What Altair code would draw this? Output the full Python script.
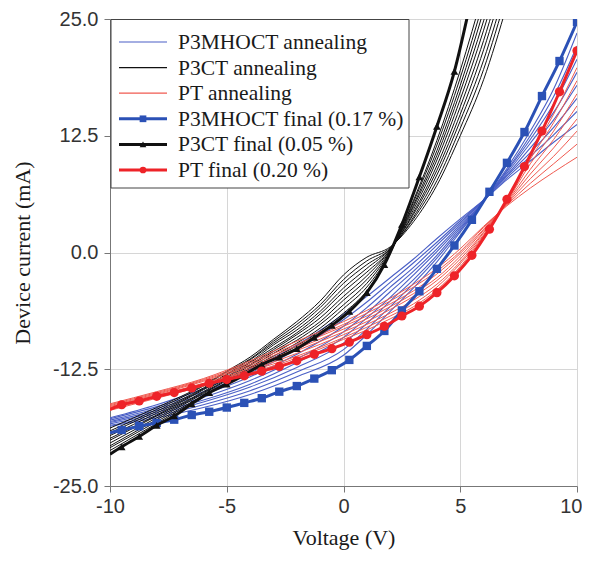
import altair as alt
import pandas as pd

# ---------------- data ----------------
V_GRID = [-10, -8, -6, -4, -2, 0, 1, 2, 3, 4, 5, 6, 7, 8, 9, 10]
V_GRID_P3CT = [-10, -8, -6, -5, -4, -3, -2, -1, 0, 1, 2, 3, 4, 5, 6, 7]
V_FINAL = [-10, -9.5, -8.75, -8.0, -7.25, -6.5, -5.75, -5.0, -4.25, -3.5, -2.75,
           -2.0, -1.25, -0.5, 0.25, 1.0, 1.75, 2.5, 3.25, 4.0, 4.75, 5.5, 6.25,
           7.0, 7.75, 8.5, 9.25, 10.0]

P3MHOCT_ANNEALING = [
    [-17.7, -16.3, -14.6, -12.5, -9.9, -6.6, -4.7, -2.7, -0.7, 1.5, 3.6, 5.6, 7.8, 9.8, 11.8, 13.7],
    [-17.8, -16.5, -14.9, -12.9, -10.4, -7.2, -5.3, -3.2, -1.1, 1.1, 3.4, 5.6, 8.0, 10.3, 12.6, 15.1],
    [-17.95, -16.7, -15.2, -13.3, -10.9, -7.9, -5.9, -3.7, -1.6, 0.8, 3.2, 5.6, 8.2, 10.7, 13.4, 16.5],
    [-18.1, -16.9, -15.5, -13.7, -11.4, -8.5, -6.5, -4.2, -2.0, 0.4, 3.0, 5.6, 8.3, 11.2, 14.2, 17.9],
    [-18.2, -17.1, -15.8, -14.1, -11.8, -9.1, -7.0, -4.8, -2.4, 0.1, 2.8, 5.5, 8.5, 11.7, 15.0, 19.3],
    [-18.35, -17.3, -16.0, -14.4, -12.3, -9.7, -7.6, -5.2, -2.9, -0.3, 2.6, 5.5, 8.7, 12.1, 15.9, 20.7],
    [-18.5, -17.5, -16.3, -14.8, -12.8, -10.4, -8.2, -5.8, -3.3, -0.6, 2.4, 5.5, 8.8, 12.5, 16.7, 22.1],
    [-18.6, -17.7, -16.6, -15.2, -13.3, -11.0, -8.8, -6.3, -3.8, -1.0, 2.2, 5.5, 9.0, 13.0, 17.5, 23.5],
]

P3CT_ANNEALING = [
    [-18.8, -16.6, -14.2, -12.7, -11.2, -9.3, -7.4, -5.2, -2.4, -0.5, 0.6, 3.3, 7.2, 12.5, 18.5, 26.5],
    [-19.1, -16.8, -14.3, -12.8, -11.4, -9.5, -7.7, -5.6, -2.9, -0.9, 0.5, 3.6, 7.7, 13.3, 19.6, 27.7],
    [-19.3, -17.0, -14.5, -13.0, -11.5, -9.7, -8.0, -5.9, -3.3, -1.3, 0.4, 3.8, 8.3, 14.1, 20.6, 28.8],
    [-19.6, -17.2, -14.6, -13.1, -11.7, -9.9, -8.3, -6.3, -3.8, -1.7, 0.4, 4.1, 8.8, 14.8, 21.7, 30.0],
    [-19.9, -17.4, -14.7, -13.3, -11.8, -10.2, -8.6, -6.6, -4.2, -2.1, 0.3, 4.3, 9.3, 15.6, 22.7, 31.2],
    [-20.1, -17.5, -14.9, -13.4, -12.0, -10.4, -8.8, -7.0, -4.7, -2.5, 0.3, 4.6, 9.9, 16.4, 23.8, 32.3],
    [-20.4, -17.7, -15.0, -13.6, -12.1, -10.6, -9.1, -7.4, -5.1, -2.9, 0.2, 4.9, 10.4, 17.2, 24.8, 33.5],
    [-20.7, -17.9, -15.1, -13.7, -12.3, -10.8, -9.4, -7.7, -5.6, -3.3, 0.1, 5.1, 10.9, 17.9, 25.9, 34.7],
    [-20.9, -18.1, -15.3, -13.9, -12.4, -11.1, -9.7, -8.1, -6.0, -3.7, 0.0, 5.4, 11.5, 18.7, 26.9, 35.8],
    [-21.2, -18.3, -15.4, -14.0, -12.6, -11.3, -10.0, -8.4, -6.5, -4.1, -0.1, 5.6, 12.0, 19.5, 28.0, 37.0],
]

PT_ANNEALING = [
    [-16.2, -14.9, -13.5, -11.6, -9.5, -7.4, -6.2, -4.9, -3.4, -1.7, 0.4, 2.8, 5.0, 6.9, 8.6, 10.2],
    [-16.3, -15.0, -13.6, -11.8, -9.8, -7.7, -6.5, -5.2, -3.7, -2.0, 0.1, 2.7, 5.1, 7.4, 9.5, 11.6],
    [-16.4, -15.1, -13.7, -12.0, -10.0, -7.9, -6.8, -5.5, -4.1, -2.3, -0.1, 2.5, 5.2, 7.9, 10.3, 13.0],
    [-16.5, -15.2, -13.8, -12.2, -10.3, -8.2, -7.1, -5.8, -4.4, -2.7, -0.4, 2.4, 5.3, 8.4, 11.2, 14.3],
    [-16.6, -15.3, -14.0, -12.4, -10.5, -8.5, -7.4, -6.1, -4.7, -3.0, -0.7, 2.2, 5.4, 8.9, 12.1, 15.7],
    [-16.7, -15.4, -14.1, -12.6, -10.8, -8.8, -7.7, -6.5, -5.1, -3.4, -1.0, 2.1, 5.5, 9.5, 13.0, 17.0],
    [-16.8, -15.5, -14.2, -12.7, -11.1, -9.1, -8.0, -6.8, -5.5, -3.7, -1.2, 1.9, 5.5, 10.0, 13.9, 18.4],
    [-16.9, -15.6, -14.3, -12.9, -11.3, -9.3, -8.3, -7.1, -5.8, -4.0, -1.5, 1.8, 5.6, 10.5, 14.8, 19.8],
]

P3MHOCT_FINAL = [-19.3, -19.0, -18.6, -18.25, -17.9, -17.4, -17.05, -16.6, -16.1, -15.6,
                 -14.9, -14.3, -13.5, -12.6, -11.5, -10.0, -8.4, -6.2, -4.15, -1.75,
                 0.75, 3.5, 6.5, 9.6, 12.9, 16.75, 20.5, 24.7]
P3CT_FINAL = [-21.6, -20.8, -19.7, -18.5, -17.5, -16.2, -15.0, -14.1, -13.1, -12.0,
              -11.2, -10.3, -9.1, -7.8, -6.3, -4.3, -1.3, 3.0, 8.1, 13.5, 19.4, 27.5]
PT_FINAL = [-16.8, -16.3, -15.9, -15.4, -15.0, -14.5, -14.0, -13.6, -13.2, -12.7,
            -12.2, -11.6, -10.9, -10.3, -9.6, -8.8, -7.9, -6.8, -5.75, -4.3,
            -2.5, -0.3, 2.5, 5.7, 9.2, 13.0, 17.2, 21.6]

LEGEND_LABELS = ["P3MHOCT annealing", "P3CT annealing", "PT annealing",
                 "P3MHOCT final (0.17 %)", "P3CT final (0.05 %)", "PT final (0.20 %)"]
X_TICKS = [-10, -5, 0, 5, 10]
Y_TICKS = [-25, -12.5, 0, 12.5, 25]

# ---------------- build tables ----------------
def annealing_df(curves, grid, name):
    rows = []
    for k, c in enumerate(curves):
        for v, i in zip(grid, c):
            rows.append({"V": v, "I": i, "curve": f"{name}{k}"})
    return pd.DataFrame(rows)

def final_df(vals):
    return pd.DataFrame({"V": V_FINAL[:len(vals)], "I": vals})

BLUE_THIN = "#4a5fc6"
BLUE = "#2b51b6"
BLACK = "#111111"
RED_THIN = "#f05a50"
RED = "#ee2328"

MINUS_FIX = "replace(datum.label, '\u2212', '-')"

xs = alt.Scale(domain=[-10, 10], nice=False)
ys = alt.Scale(domain=[-25, 25], nice=False)
x_enc = alt.X("V:Q", scale=xs,
              axis=alt.Axis(values=X_TICKS, title="Voltage (V)", titleY=41,
                            titleBaseline="top", labelExpr=MINUS_FIX, labelFlush=False,
                            labelAlign={"condition": {"test": "datum.value == 10", "value": "right"},
                                        "value": "center"},
                            labelOffset={"condition": {"test": "datum.value == 10", "value": 5},
                                         "value": 0}))
y_enc = alt.Y("I:Q", scale=ys,
              axis=alt.Axis(values=Y_TICKS, format=".1f", title="Device current (mA)",
                            titleX=-76, titleY=233.5, titleBaseline="bottom", titleAngle=270,
                            labelExpr=MINUS_FIX, labelFlush=False))

layers = []
for curves, grid, name, col, w in [
    (P3MHOCT_ANNEALING, V_GRID, "b", BLUE_THIN, 1.1),
    (P3CT_ANNEALING, V_GRID_P3CT, "k", BLACK, 1.0),
    (PT_ANNEALING, V_GRID, "r", RED_THIN, 1.0),
]:
    layers.append(
        alt.Chart(annealing_df(curves, grid, name))
        .mark_line(color=col, strokeWidth=w, clip=True, interpolate="monotone")
        .encode(x=x_enc, y=y_enc, detail="curve:N")
    )

for vals, col, shape, size in [
    (P3MHOCT_FINAL, BLUE, "square", 70),
    (P3CT_FINAL, BLACK, "triangle-up", 60),
    (PT_FINAL, RED, "circle", 85),
]:
    base = alt.Chart(final_df(vals))
    layers.append(base.mark_line(color=col, strokeWidth=3, clip=True, interpolate="monotone")
                  .encode(x=x_enc, y=y_enc))
    layers.append(base.transform_filter("datum.V > -9.9")
                  .mark_point(shape=shape, filled=True, size=size, color=col, opacity=1, clip=True)
                  .encode(x=x_enc, y=y_enc))

# ---------------- legend (drawn box) ----------------
layers.append(
    alt.Chart(alt.Data(values=[{"a": 1}]))
    .mark_rect(fill="white", stroke="#444444", strokeWidth=1)
    .encode(x=alt.value(1), x2=alt.value(299), y=alt.value(0.5), y2=alt.value(169))
)
styles = [(BLUE_THIN, 1.2, None), (BLACK, 1.2, None), (RED_THIN, 1.2, None),
          (BLUE, 3, "square"), (BLACK, 3, "triangle-up"), (RED, 3, "circle")]
for i, (label, (col, w, shape)) in enumerate(zip(LEGEND_LABELS, styles)):
    yy = 23 + i * 25.6
    b = alt.Chart(alt.Data(values=[{"label": label}]))
    layers.append(b.mark_rule(color=col, strokeWidth=w)
                  .encode(x=alt.value(9), x2=alt.value(57), y=alt.value(yy)))
    if shape:
        layers.append(b.mark_point(shape=shape, filled=True, size=45, color=col, opacity=1)
                      .encode(x=alt.value(33), y=alt.value(yy)))
    layers.append(b.mark_text(align="left", baseline="middle", font="Liberation Serif",
                              fontSize=21.5, color="#1a1a1a")
                  .encode(x=alt.value(68), y=alt.value(yy + 1), text="label:N"))

chart = (
    alt.layer(*layers)
    .properties(width=467, height=467,
                autosize=alt.AutoSizeParams(type="none"),
                padding={"left": 102, "top": 11, "right": 5, "bottom": 67},
                background="white")
    .configure_view(stroke=None)
    .configure_axis(
        grid=True, gridColor="#d6d6d6", gridWidth=1,
        domainColor="#777777", tickColor="#777777", tickSize=6,
        labelFont="Liberation Sans", labelFontSize=20, labelColor="#333333",
        labelPadding=4,
        titleFont="Liberation Serif", titleFontSize=22, titleFontWeight="normal",
        titleColor="#1a1a1a",
    )
    .configure_axisY(labelPadding=6)
)

chart.save("out.html", embed_options={"renderer": "svg", "actions": False})
